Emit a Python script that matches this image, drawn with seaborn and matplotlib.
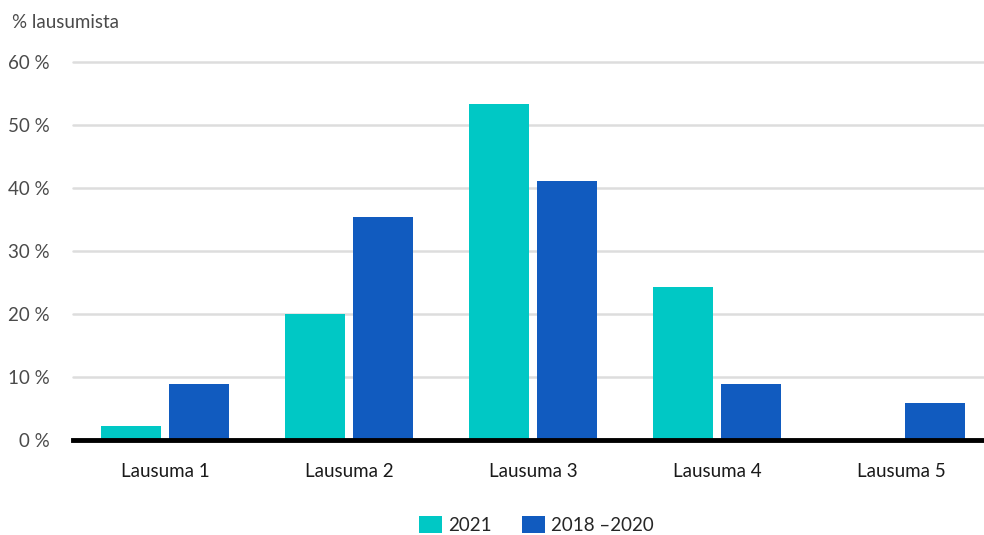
import matplotlib
matplotlib.use("Agg")
import matplotlib.pyplot as plt
import seaborn as sns
import pandas as pd
from matplotlib.patches import Patch

categories = ["Lausuma 1", "Lausuma 2", "Lausuma 3", "Lausuma 4", "Lausuma 5"]
series_names = ["2021", "2018 \u20132020"]
values_2021 = [2.1, 20.0, 53.3, 24.3, 0.0]
values_2018_2020 = [8.8, 35.3, 41.1, 8.8, 5.8]
y_ticks = [0, 10, 20, 30, 40, 50, 60]
y_tick_labels = ["0 %", "10 %", "20 %", "30 %", "40 %", "50 %", "60 %"]
y_title = "% lausumista"

colors = ["#00C8C5", "#115BBF"]

df = pd.DataFrame({
    "Lausuma": categories * 2,
    "Ryhmä": [series_names[0]] * len(categories) + [series_names[1]] * len(categories),
    "Osuus": values_2021 + values_2018_2020,
})

sns.set_style("white")
plt.rcParams["font.family"] = ["Lato", "DejaVu Sans"]

fig = plt.figure(figsize=(9.84, 5.35), dpi=100)
ax = fig.add_axes([0.0742, 0.1785, 0.9258, 0.7055])

sns.barplot(data=df, x="Lausuma", y="Osuus", hue="Ryhmä",
            palette=colors, width=0.739, gap=0.118, saturation=1,
            linewidth=0, errorbar=None, legend=False, ax=ax, zorder=3)

ax.set_xlim(-0.5, 4.45)
ax.set_ylim(0, 60)
ax.set_yticks(y_ticks)
ax.set_yticklabels(y_tick_labels)
ax.yaxis.grid(True, color="#DDDDDD", linewidth=1.8, zorder=0)
for gl in ax.get_ygridlines():
    gl.set_clip_on(False)
ax.set_axisbelow(True)
for side in ["left", "right", "top"]:
    ax.spines[side].set_visible(False)
ax.spines["bottom"].set_color("black")
ax.spines["bottom"].set_linewidth(3.5)
ax.spines["bottom"].set_zorder(5)

ax.set_xlabel("")
ax.set_ylabel("")
ax.tick_params(axis="y", length=0, pad=17, labelsize=13.5, labelcolor="#4a4a4a")
ax.tick_params(axis="x", length=0, pad=17, labelsize=13.5, labelcolor="#1a1a1a")

fig.text(12 / 984, 1 - 22 / 535, y_title, fontsize=13.5, color="#4a4a4a",
         ha="left", va="center")

handles = [Patch(facecolor=c, edgecolor="none") for c in colors]
fig.legend(handles, series_names, loc="center", bbox_to_anchor=(0.545, 1 - 525 / 535),
           ncol=2, frameon=False, fontsize=13.5, handlelength=1.25, handleheight=1.05,
           handletextpad=0.3, columnspacing=1.6)

fig.savefig("out.png", dpi=100)
